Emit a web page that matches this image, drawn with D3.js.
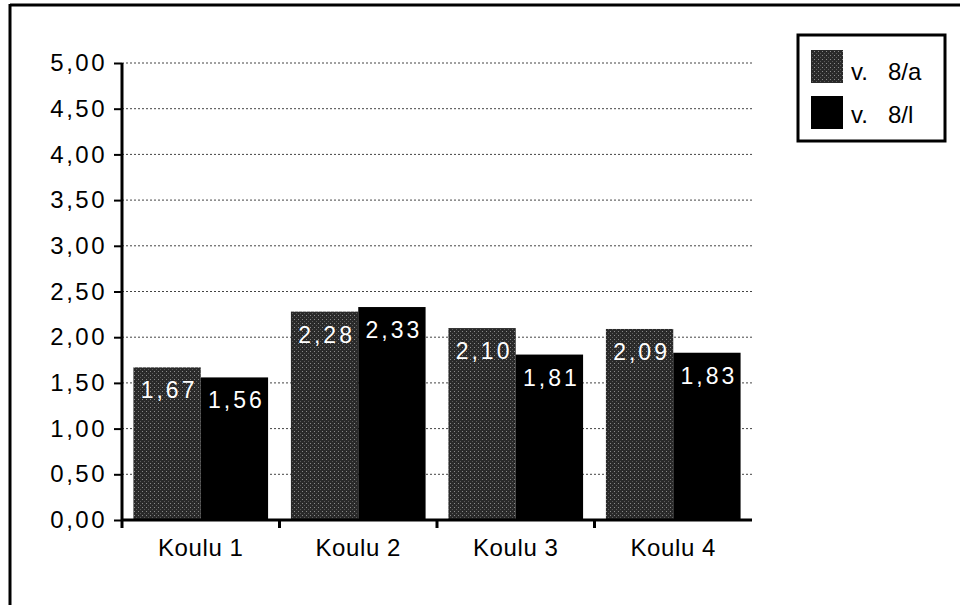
<!DOCTYPE html>
<html>
<head>
<meta charset="utf-8">
<script src="https://cdn.jsdelivr.net/npm/d3@7"></script>
<style>
  body { margin: 0; background: #fff; }
  text { font-family: "Liberation Sans", Arial, sans-serif; }
</style>
</head>
<body>
<div id="chart"></div>
<script>
// data
var schools = ["Koulu 1", "Koulu 2", "Koulu 3", "Koulu 4"];
var seriesNames = ["v.   8/a", "v.   8/l"];
var values8a = [1.67, 2.28, 2.10, 2.09];
var values8l = [1.56, 2.33, 1.81, 1.83];
var yTicks = [0, 0.5, 1, 1.5, 2, 2.5, 3, 3.5, 4, 4.5, 5];

var fmt = function (v) { return v.toFixed(2).replace(".", ","); };

var width = 960, height = 605;
var margin = { top: 63, left: 122, right: 208, bottom: 85 };
var plotW = width - margin.left - margin.right;
var plotH = height - margin.top - margin.bottom;

var svg = d3.select("#chart").append("svg")
    .attr("width", width)
    .attr("height", height);

// dithered dark fill for the first series
var defs = svg.append("defs");
var pat = defs.append("pattern")
    .attr("id", "dith")
    .attr("width", 4).attr("height", 4)
    .attr("patternUnits", "userSpaceOnUse");
pat.append("rect").attr("width", 4).attr("height", 4).attr("fill", "#2a2a2a");
pat.append("rect").attr("x", 0).attr("y", 0).attr("width", 1).attr("height", 1).attr("fill", "#8a8a8a");
pat.append("rect").attr("x", 2).attr("y", 2).attr("width", 1).attr("height", 1).attr("fill", "#5a5a5a");

// frame
svg.append("line").attr("x1", 10).attr("x2", 960).attr("y1", 5).attr("y2", 5)
    .attr("stroke", "#000").attr("stroke-width", 3);
svg.append("line").attr("x1", 10).attr("x2", 10).attr("y1", 4).attr("y2", 605)
    .attr("stroke", "#000").attr("stroke-width", 3);

var g = svg.append("g").attr("transform", "translate(" + margin.left + "," + margin.top + ")");

var x = d3.scaleBand().domain(schools).range([0, plotW]).paddingInner(0.145).paddingOuter(0.0725);
var band = d3.scaleBand().domain([0, 1]).range([0, x.bandwidth()]);
var y = d3.scaleLinear().domain([0, 5]).range([plotH, 0]);

// gridlines
g.append("g").selectAll("line")
    .data(yTicks.filter(function (d) { return d > 0; }))
    .join("line")
    .attr("x1", 0).attr("x2", plotW)
    .attr("y1", function (d) { return y(d); })
    .attr("y2", function (d) { return y(d); })
    .attr("stroke", "#444")
    .attr("stroke-width", 1)
    .attr("stroke-dasharray", "2,2");

// bars
var series = [values8a, values8l];
var fills = ["url(#dith)", "#000"];
series.forEach(function (vals, si) {
    var grp = g.append("g");
    grp.selectAll("rect")
        .data(vals)
        .join("rect")
        .attr("x", function (d, i) { return x(schools[i]) + band(si); })
        .attr("y", function (d) { return y(d); })
        .attr("width", band.bandwidth())
        .attr("height", function (d) { return plotH - y(d); })
        .attr("fill", fills[si]);
    grp.selectAll("text")
        .data(vals)
        .join("text")
        .attr("x", function (d, i) { return x(schools[i]) + band(si) + band.bandwidth() / 2 + 2; })
        .attr("y", function (d) { return y(d) + 31; })
        .attr("text-anchor", "middle")
        .attr("fill", "#fff")
        .attr("font-size", 23)
        .attr("letter-spacing", 3)
        .text(fmt);
});

// y axis
var yAxis = g.append("g").call(d3.axisLeft(y).tickValues(yTicks).tickSize(8).tickPadding(7).tickFormat(fmt));
yAxis.select(".domain").attr("stroke-width", 3).attr("d", "M0," + (plotH + 8) + "V0");
yAxis.selectAll("line").attr("stroke-width", 2);
yAxis.selectAll("text").attr("font-size", 24).attr("letter-spacing", 2.5).attr("fill", "#000");

// x axis
var xAxis = g.append("g").attr("transform", "translate(0," + plotH + ")")
    .call(d3.axisBottom(x).tickSize(0).tickPadding(19));
xAxis.select(".domain").attr("stroke-width", 3).attr("d", "M0,0H" + plotW);
xAxis.selectAll("text").attr("font-size", 24).attr("letter-spacing", 0.6).attr("fill", "#000");
// separators between categories
g.append("g").selectAll("line")
    .data(schools.slice(1))
    .join("line")
    .attr("x1", function (d) { return x(d) - x.step() * x.paddingInner() / 2; })
    .attr("x2", function (d) { return x(d) - x.step() * x.paddingInner() / 2; })
    .attr("y1", plotH).attr("y2", plotH + 8)
    .attr("stroke", "#000").attr("stroke-width", 3);

// legend
var lg = svg.append("g").attr("transform", "translate(798,35)");
lg.append("rect").attr("width", 147).attr("height", 106)
    .attr("fill", "#fff").attr("stroke", "#000").attr("stroke-width", 3);
seriesNames.forEach(function (name, i) {
    lg.append("rect").attr("x", 13).attr("y", 15 + i * 46).attr("width", 32).attr("height", 33)
        .attr("fill", fills[i]);
    lg.append("text").attr("x", 53).attr("y", 45 + i * 43)
        .attr("font-size", 24).attr("fill", "#000")
        .attr("xml:space", "preserve")
        .style("white-space", "pre")
        .text(name);
});
</script>
</body>
</html>
